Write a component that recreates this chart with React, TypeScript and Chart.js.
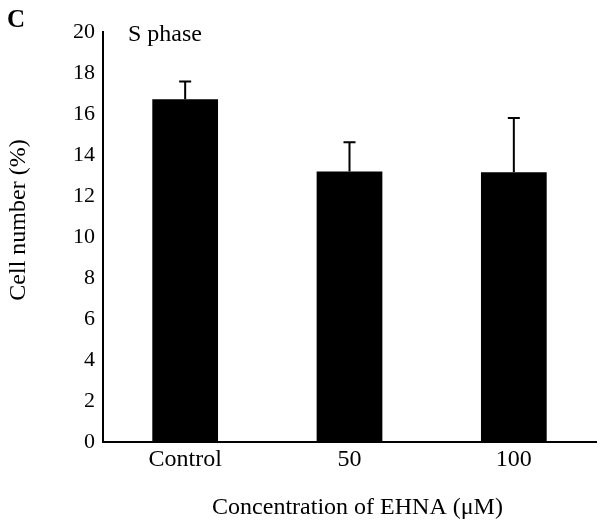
import React, { useEffect, useRef } from "react";
import { Chart, registerables } from "chart.js";

Chart.register(...registerables);

const categories = ["Control", "50", "100"];
const meanValues = [16.72, 13.2, 13.16];
const errorValues = [0.86, 1.42, 2.64];
const yTicks = [0, 2, 4, 6, 8, 10, 12, 14, 16, 18, 20];
const panelLetter = "C";
const panelTitle = "S phase";
const xTitle = "Concentration of EHNA (\u03bcM)";
const yTitle = "Cell number (%)";

const FONT = "'Liberation Serif', 'DejaVu Serif', serif";

const errorBarPlugin = {
  id: "errorBars",
  afterDatasetsDraw(chart: any) {
    const ctx = chart.ctx;
    const meta = chart.getDatasetMeta(0);
    const yScale = chart.scales.y;
    ctx.save();
    ctx.strokeStyle = "#000";
    ctx.lineWidth = 2;
    meta.data.forEach((bar: any, i: number) => {
      const top = yScale.getPixelForValue(meanValues[i] + errorValues[i]);
      const base = yScale.getPixelForValue(meanValues[i]);
      ctx.beginPath();
      ctx.moveTo(bar.x, base);
      ctx.lineTo(bar.x, top);
      ctx.moveTo(bar.x - 6, top);
      ctx.lineTo(bar.x + 6, top);
      ctx.stroke();
    });
    ctx.restore();
  },
};

const labelsPlugin = {
  id: "panelLabels",
  afterDraw(chart: any) {
    const ctx = chart.ctx;
    const area = chart.chartArea;
    ctx.save();
    ctx.fillStyle = "#000";
    ctx.textBaseline = "alphabetic";
    ctx.textAlign = "left";
    ctx.font = `bold 25px ${FONT}`;
    ctx.fillText(panelLetter, 7, 27);
    ctx.font = `24px ${FONT}`;
    ctx.fillText(panelTitle, area.left + 25, area.top + 9);
    // x-axis title
    ctx.textAlign = "center";
    ctx.textBaseline = "middle";
    ctx.fillText(xTitle, (area.left + area.right) / 2 + 8, area.bottom + 66);
    // y-axis title
    ctx.translate(19, area.top + 188);
    ctx.rotate(-Math.PI / 2);
    ctx.fillText(yTitle, 0, 0);
    ctx.restore();
  },
};

export default function App() {
  const canvasRef = useRef<HTMLCanvasElement | null>(null);

  useEffect(() => {
    if (!canvasRef.current) return;
    const chart = new Chart(canvasRef.current, {
      type: "bar",
      data: {
        labels: categories,
        datasets: [
          {
            data: meanValues,
            backgroundColor: "#000",
            borderWidth: 0,
            barPercentage: 0.4,
            categoryPercentage: 1,
          },
        ],
      },
      options: {
        animation: false,
        responsive: false,
        maintainAspectRatio: false,
        layout: { padding: { top: 32, right: 6, left: 0, bottom: 0 } },
        plugins: {
          legend: { display: false },
          tooltip: { enabled: false },
        },
        scales: {
          x: {
            grid: { display: false, drawTicks: false },
            border: { display: true, color: "#000", width: 2 },
            ticks: {
              color: "#000",
              font: { family: FONT, size: 24 },
              padding: 3,
            },
            title: { display: false },
            afterFit(scale: any) {
              scale.height = 83;
            },
          },
          y: {
            min: 0,
            max: 20,
            afterBuildTicks(scale: any) {
              scale.ticks = yTicks.map((v) => ({ value: v }));
            },
            grid: { display: false, drawTicks: false },
            border: { display: true, color: "#000", width: 2 },
            ticks: {
              color: "#000",
              font: { family: FONT, size: 22 },
              padding: 8,
            },
            title: { display: false },
            afterFit(scale: any) {
              scale.width = 103;
            },
          },
        },
      },
      plugins: [errorBarPlugin, labelsPlugin],
    });
    return () => chart.destroy();
  }, []);

  return (
    <div style={{ position: "fixed", left: 0, top: 0, width: 602, height: 525, background: "#fff" }}>
      <canvas ref={canvasRef} width={602} height={525} style={{ width: 602, height: 525 }} />
    </div>
  );
}
